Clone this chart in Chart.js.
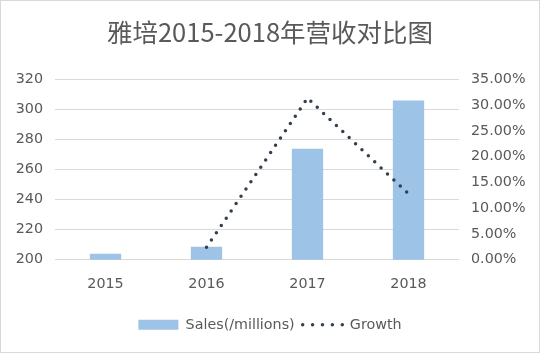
<!DOCTYPE html>
<html><head><meta charset="utf-8">
<script src="https://cdn.jsdelivr.net/npm/chart.js@4"></script>
<style>html,body{margin:0;padding:0;background:#fff}#wrap{width:540px;height:353px}</style>
</head><body><div id="wrap"><canvas id="c" width="540" height="353"></canvas></div>
<script>
const categories = ['2015', '2016', '2017', '2018'];
const sales = [204, 208.7, 274, 306];
const growth = [null, 2.4, 31.4, 12.8];
const salesLabel = 'Sales(/millions)';
const growthLabel = 'Growth';
const titleText = '雅培2015-2018年营收对比图';

const txt = '#595959';
const tickFont = {family: 'DejaVu Sans', size: 14.3};

const borderPlugin = {
  id: 'outerBorder',
  afterDraw(chart) {
    const ctx = chart.ctx;
    ctx.save();
    ctx.strokeStyle = '#d9d9d9';
    ctx.lineWidth = 1;
    ctx.strokeRect(0.5, 0.5, chart.width - 1, chart.height - 1);
    ctx.restore();
  }
};

new Chart(document.getElementById('c'), {
  data: {
    labels: categories,
    datasets: [
      {
        type: 'line', label: growthLabel, data: growth, yAxisID: 'y1',
        borderColor: '#333F50', backgroundColor: '#333F50', borderWidth: 3.5,
        borderDash: [0, 8.8], borderCapStyle: 'round', pointRadius: 0, pointHoverRadius: 0,
        pointStyle: 'line', fill: false, tension: 0, order: 0
      },
      {
        type: 'bar', label: salesLabel, data: sales, yAxisID: 'y',
        backgroundColor: '#9DC3E6', borderWidth: 0, pointStyle: 'rect',
        barPercentage: 0.31, categoryPercentage: 1, order: 1
      }
    ]
  },
  options: {
    responsive: false, animation: false,
    layout: {padding: {left: 0, right: 0, top: 0, bottom: 11}},
    plugins: {
      title: {
        display: true, text: titleText, color: txt,
        font: {family: 'Noto Sans CJK SC', size: 25.5, weight: 'normal'},
        padding: {top: 17, bottom: 32}
      },
      legend: {
        position: 'bottom',
        reverse: true,
        labels: {
          color: txt, font: {family: 'DejaVu Sans', size: 14.3},
          usePointStyle: true, pointStyleWidth: 40, boxHeight: 10, padding: 8,
          generateLabels(chart) {
            const items = Chart.defaults.plugins.legend.labels.generateLabels(chart);
            items.forEach(it => {
              if (it.text === growthLabel) {
                it.lineDash = [0, 9.9]; it.lineCap = 'round'; it.lineWidth = 3.5;
                it.strokeStyle = '#333F50'; it.pointStyle = 'line'; it.lineDashOffset = 0;
              } else {
                it.lineWidth = 0; it.pointStyle = 'rect'; it.fillStyle = '#9DC3E6';
              }
            });
            return items;
          }
        }
      },
      tooltip: {enabled: false}
    },
    scales: {
      x: {
        grid: {display: false}, border: {display: false},
        ticks: {color: txt, font: tickFont, padding: 8},
        afterFit(s) { s.height = 50; }
      },
      y: {
        position: 'left', min: 200, max: 320,
        ticks: {stepSize: 20, color: txt, font: tickFont, padding: 12},
        grid: {color: '#d9d9d9', lineWidth: 1, drawTicks: false},
        border: {display: false},
        afterFit(s) { s.width = 55; }
      },
      y1: {
        position: 'right', min: 0, max: 35,
        ticks: {stepSize: 5, color: txt, font: tickFont, padding: 12,
          callback: v => v.toFixed(2) + '%'},
        grid: {display: false, drawTicks: false},
        border: {display: false},
        afterFit(s) { s.width = 81; }
      }
    }
  },
  plugins: [borderPlugin]
});
</script></body></html>
